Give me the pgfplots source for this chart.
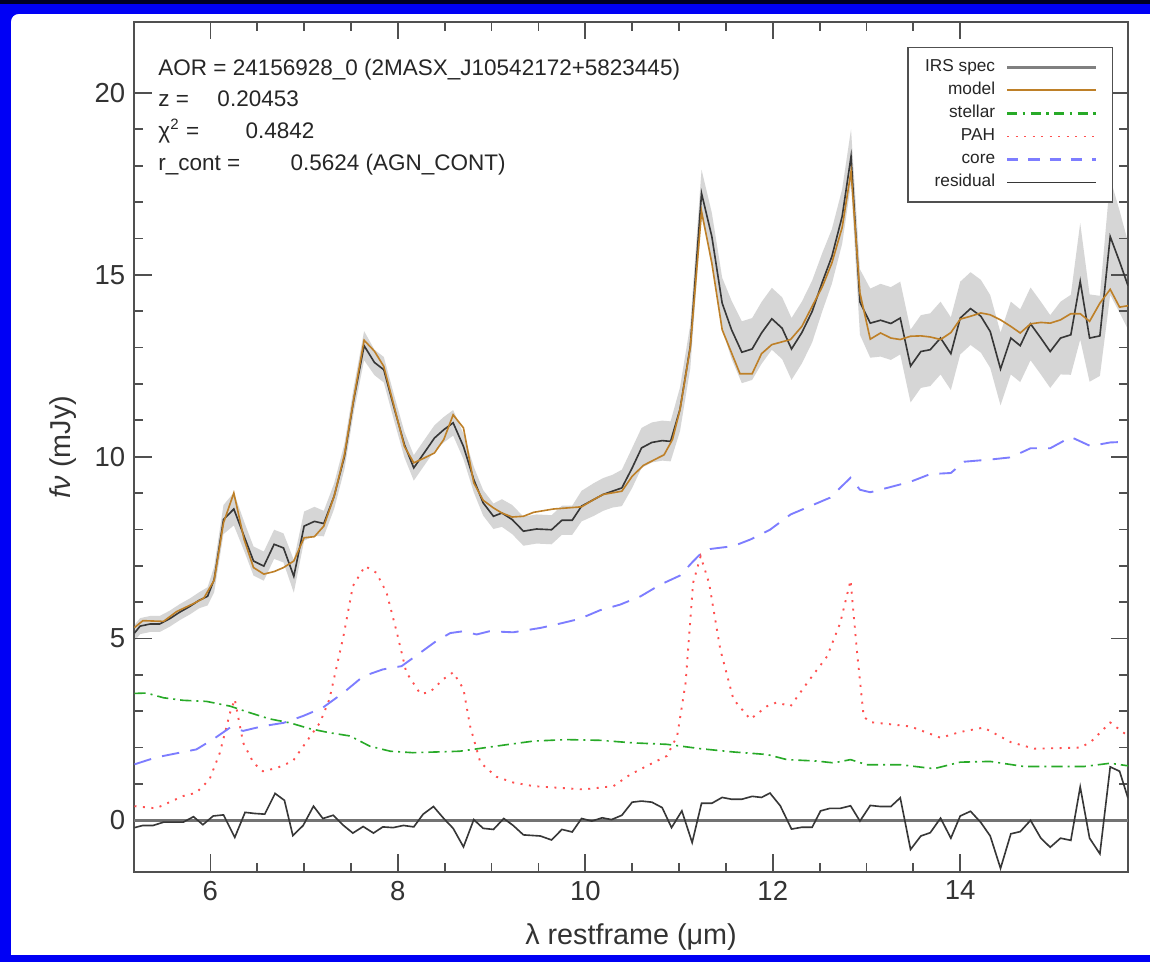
\documentclass[border=0pt]{standalone}
\usepackage{fontspec}
\setmainfont{Liberation Sans}
\usepackage{pgfplots}
\usepackage{pgfplotstable}
\pgfplotsset{compat=1.18}
\usepgfplotslibrary{fillbetween}

\definecolor{modelc}{RGB}{190,128,40}
\definecolor{stellarc}{RGB}{40,170,40}
\definecolor{pahc}{RGB}{255,80,80}
\definecolor{corec}{RGB}{125,125,255}
\definecolor{specc}{RGB}{55,55,55}
\definecolor{bandc}{RGB}{214,214,214}
\definecolor{framec}{RGB}{80,80,80}
\definecolor{bgblue}{RGB}{0,0,245}

\pgfdeclarelayer{bgpic}
\pgfplotsset{layers/mylayers/.define layer set={bgpic,axis background,axis grid,axis ticks,axis lines,axis tick labels,pre main,main,axis descriptions,axis foreground}{}}

\pgfplotstableread{
x y e
5.19 5.15 0.22
5.25 5.34 0.22
5.36 5.40 0.22
5.46 5.40 0.22
5.57 5.55 0.22
5.67 5.72 0.22
5.78 5.88 0.22
5.88 6.05 0.22
5.97 6.16 0.25
6.04 6.62 0.35
6.14 8.27 0.4
6.25 8.56 0.45
6.36 7.81 0.4
6.46 7.13 0.4
6.57 6.99 0.4
6.68 7.59 0.4
6.78 7.49 0.4
6.89 6.71 0.45
7.00 8.09 0.4
7.11 8.22 0.4
7.21 8.16 0.35
7.32 8.91 0.35
7.43 10.0 0.35
7.53 11.57 0.35
7.64 13.05 0.4
7.75 12.59 0.35
7.85 12.39 0.35
7.96 11.34 0.35
8.07 10.33 0.35
8.17 9.69 0.35
8.28 10.10 0.35
8.39 10.51 0.35
8.49 10.74 0.35
8.59 10.93 0.35
8.70 10.28 0.35
8.81 9.37 0.35
8.91 8.73 0.35
9.02 8.36 0.35
9.11 8.45 0.38
9.22 8.27 0.4
9.34 7.95 0.4
9.48 8.01 0.4
9.64 7.99 0.4
9.75 8.25 0.4
9.86 8.25 0.4
9.96 8.64 0.42
10.09 8.82 0.45
10.19 8.96 0.45
10.29 9.05 0.45
10.39 9.14 0.5
10.50 9.69 0.55
10.60 10.24 0.55
10.71 10.39 0.55
10.82 10.44 0.55
10.91 10.42 0.55
11.01 11.30 0.6
11.12 13.03 0.6
11.24 17.24 0.65
11.35 16.05 0.65
11.46 14.22 0.7
11.56 13.49 0.8
11.67 12.87 0.85
11.78 12.96 0.85
11.88 13.40 0.85
11.99 13.79 0.85
12.10 13.53 0.85
12.20 12.96 0.85
12.31 13.41 0.85
12.42 13.99 0.85
12.53 14.81 0.8
12.63 15.50 0.75
12.74 16.60 0.75
12.835 18.25 0.75
12.93 14.25 0.9
13.04 13.67 0.95
13.15 13.75 1.0
13.26 13.66 1.0
13.36 13.81 1.0
13.47 12.49 1.0
13.58 12.89 1.0
13.68 12.94 1.0
13.79 13.26 1.0
13.90 12.83 1.0
14.00 13.81 1.0
14.11 14.07 1.0
14.22 13.86 1.0
14.32 13.44 1.0
14.43 12.41 1.0
14.54 13.26 1.0
14.64 13.05 1.0
14.75 13.65 1.0
14.86 13.26 1.0
14.96 12.89 1.0
15.07 13.26 1.0
15.18 13.35 1.1
15.28 14.82 1.6
15.38 13.26 1.2
15.49 13.32 1.1
15.60 16.05 1.6
15.70 15.36 1.4
15.79 14.70 1.2
}\spec

\pgfplotstableread{
x y
5.19 5.30
5.28 5.49
5.39 5.48
5.50 5.47
5.64 5.74
5.82 5.96
5.93 6.11
6.04 6.60
6.14 8.18
6.25 9.00
6.36 7.72
6.46 6.95
6.57 6.77
6.68 6.84
6.78 6.95
6.89 7.13
7.00 7.77
7.11 7.80
7.21 8.09
7.32 8.91
7.43 10.05
7.53 11.60
7.64 13.20
7.75 12.90
7.85 12.48
7.96 11.38
8.07 10.28
8.17 9.83
8.28 9.96
8.39 10.10
8.49 10.47
8.59 11.15
8.70 10.79
8.81 9.28
8.91 8.80
9.02 8.59
9.11 8.45
9.22 8.34
9.34 8.36
9.45 8.47
9.66 8.56
9.96 8.62
10.09 8.82
10.19 8.96
10.39 9.05
10.50 9.46
10.62 9.76
10.84 10.05
10.93 10.47
11.01 11.29
11.12 13.00
11.24 16.74
11.35 15.32
11.46 13.49
11.65 12.28
11.78 12.28
11.88 12.83
11.99 13.08
12.19 13.22
12.31 13.58
12.42 14.13
12.53 14.68
12.63 15.32
12.74 16.30
12.835 17.84
12.93 14.50
13.04 13.23
13.15 13.40
13.26 13.26
13.36 13.22
13.47 13.31
13.58 13.32
13.68 13.29
13.79 13.22
13.90 13.41
14.00 13.78
14.11 13.86
14.22 13.95
14.32 13.90
14.43 13.76
14.54 13.58
14.64 13.40
14.75 13.65
14.86 13.69
14.96 13.67
15.07 13.76
15.18 13.93
15.28 13.93
15.38 13.72
15.49 14.22
15.60 14.60
15.70 14.11
15.79 14.15
}\model

\pgfplotstableread{
x y
5.19 3.49
5.32 3.50
5.50 3.37
5.71 3.30
5.96 3.27
6.21 3.14
6.42 2.96
6.63 2.79
6.85 2.68
7.06 2.52
7.27 2.41
7.49 2.32
7.70 2.04
7.92 1.90
8.16 1.86
8.41 1.88
8.66 1.90
8.91 1.99
9.16 2.08
9.45 2.18
9.80 2.22
10.16 2.20
10.51 2.13
10.87 2.09
11.23 1.97
11.58 1.88
11.94 1.81
12.15 1.67
12.47 1.63
12.65 1.58
12.83 1.67
13.00 1.53
13.36 1.53
13.72 1.42
14.00 1.60
14.32 1.62
14.68 1.48
15.32 1.48
15.60 1.57
15.79 1.50
}\stellar

\pgfplotstableread{
x y
5.19 0.39
5.42 0.33
5.71 0.67
5.85 0.76
5.99 1.12
6.10 1.85
6.21 2.96
6.26 3.33
6.35 2.13
6.46 1.58
6.56 1.35
6.71 1.44
6.88 1.63
7.03 2.18
7.17 2.69
7.27 3.33
7.42 5.07
7.52 6.44
7.65 6.99
7.77 6.81
7.88 6.26
7.99 5.16
8.09 4.07
8.24 3.48
8.34 3.52
8.49 3.89
8.59 4.07
8.70 3.61
8.77 2.60
8.88 1.59
9.05 1.20
9.23 1.04
9.45 0.94
9.98 0.85
10.30 0.94
10.48 1.26
10.69 1.54
10.87 1.77
10.98 2.32
11.07 3.78
11.15 6.53
11.23 7.26
11.32 6.53
11.44 4.70
11.58 3.33
11.76 2.78
11.94 3.14
12.04 3.24
12.19 3.14
12.37 3.79
12.58 4.51
12.72 5.43
12.83 6.60
12.90 4.60
12.97 2.85
13.04 2.70
13.26 2.64
13.47 2.58
13.79 2.27
14.00 2.43
14.25 2.55
14.54 2.15
14.79 1.97
15.28 2.00
15.39 2.15
15.60 2.69
15.79 2.32
}\pah

\pgfplotstableread{
x y
5.19 1.54
5.42 1.73
5.71 1.88
5.85 1.95
6.03 2.23
6.21 2.55
6.35 2.46
6.56 2.59
6.78 2.68
6.99 2.87
7.20 3.10
7.42 3.51
7.63 3.96
7.84 4.15
8.04 4.24
8.24 4.61
8.41 4.93
8.56 5.15
8.70 5.20
8.84 5.11
8.98 5.20
9.23 5.17
9.52 5.29
9.73 5.41
9.94 5.54
10.16 5.78
10.37 5.93
10.59 6.16
10.80 6.48
11.01 6.73
11.15 7.12
11.23 7.33
11.33 7.46
11.58 7.54
11.76 7.72
11.97 7.99
12.19 8.41
12.40 8.64
12.61 8.87
12.83 9.42
12.93 9.09
13.04 9.02
13.22 9.14
13.47 9.31
13.68 9.52
13.90 9.55
14.04 9.86
14.32 9.92
14.54 9.98
14.75 10.23
14.96 10.23
15.18 10.54
15.39 10.29
15.60 10.39
15.79 10.41
}\core

\pgfplotstableread{
x y
5.19 -0.20
5.28 -0.14
5.39 -0.14
5.50 -0.05
5.61 -0.05
5.71 -0.05
5.82 0.10
5.92 -0.12
6.03 0.12
6.14 0.15
6.26 -0.47
6.37 0.22
6.47 0.19
6.58 0.17
6.69 0.74
6.79 0.55
6.88 -0.42
6.99 -0.14
7.10 0.39
7.20 0.05
7.31 0.14
7.42 -0.14
7.52 -0.35
7.63 -0.17
7.74 -0.35
7.84 -0.18
7.95 -0.20
8.06 -0.14
8.17 -0.18
8.27 0.17
8.38 0.38
8.49 0.05
8.59 -0.22
8.70 -0.73
8.81 0.02
8.91 -0.22
9.02 -0.25
9.13 0.05
9.23 -0.14
9.34 -0.40
9.52 -0.43
9.64 -0.54
9.75 -0.25
9.86 -0.32
9.96 0.05
10.07 -0.02
10.18 0.07
10.28 0.02
10.39 0.14
10.50 0.50
10.60 0.53
10.71 0.50
10.82 0.35
10.92 -0.20
11.03 0.26
11.14 -0.61
11.24 0.47
11.35 0.47
11.46 0.63
11.56 0.58
11.67 0.58
11.78 0.66
11.88 0.63
11.97 0.75
12.08 0.40
12.20 -0.24
12.31 -0.19
12.42 -0.19
12.51 0.26
12.61 0.33
12.72 0.33
12.83 0.40
12.93 -0.02
13.04 0.41
13.15 0.38
13.26 0.38
13.36 0.62
13.47 -0.80
13.58 -0.43
13.68 -0.34
13.79 0.06
13.90 -0.49
14.00 0.12
14.11 0.25
14.22 -0.06
14.32 -0.43
14.43 -1.32
14.54 -0.37
14.64 -0.31
14.75 0.00
14.86 -0.49
14.96 -0.74
15.07 -0.49
15.18 -0.55
15.28 0.92
15.38 -0.49
15.49 -0.92
15.60 1.47
15.70 1.35
15.79 0.61
}\resid

\begin{document}
\begin{tikzpicture}
\pgfplotsset{set layers=mylayers}
\begin{pgfonlayer}{bgpic}
\fill[white] (-53.6pt,-36pt) rectangle (406.4pt,348.8pt);
\fill[bgblue] (-53.6pt,-36pt) rectangle (-49.2pt,348.8pt);
\fill[bgblue] (-53.6pt,343.2pt) rectangle (406.4pt,348.8pt);
\fill[black!85!blue] (-53.6pt,347.2pt) rectangle (406.4pt,348.8pt);
\fill[bgblue] (-53.6pt,-36pt) rectangle (406.4pt,-33.2pt);
\fill[bgblue] (-49.2pt,343.2pt) -- (-46.2pt,343.2pt) arc[start angle=90, end angle=180, radius=3pt] -- cycle;
\end{pgfonlayer}
\begin{axis}[
  at={(0pt,0pt)}, anchor=south west,
  scale only axis, width=397.6pt, height=340pt,
  xmin=5.185, xmax=15.79, ymin=-1.42, ymax=21.95,
  axis line style={framec, line width=0.8pt},
  tick style={framec, line width=0.7pt},
  major tick length=7pt, minor tick length=3.6pt,
  tick align=inside,
  xtick={6,8,10,12,14}, minor x tick num=3,
  ytick={0,5,10,15,20}, minor y tick num=4,
  ticklabel style={font=\fontsize{11}{13}\selectfont, text=black!80},
  /pgf/number format/assume math mode=true,
  xlabel={λ restframe (μm)},
  ylabel={\textit{fν} (mJy)},
  label style={font=\fontsize{11.5}{13}\selectfont, text=black!80},
  xlabel style={at={(axis description cs:0.5,-0.0765)}, anchor=center},
  ylabel style={at={(axis description cs:-0.0714,0.5)}, anchor=center},
  legend style={at={(rel axis cs:0.985,0.9706)}, anchor=north east,
    draw=framec, line width=0.6pt, fill=white,
    font=\fontsize{6.9}{8}\selectfont, text=black!85,
    inner xsep=6pt, inner ysep=3.8pt, row sep=1pt, column sep=3.5pt,
    nodes={inner sep=0.8pt, text height=5pt, text depth=1.6pt}},
  legend cell align=right, legend plot pos=right,
  legend image code/.code={\draw[#1] (0pt,0pt) -- (35.6pt,0pt);},
]
\addplot[draw=none, name path=up, forget plot] table[x=x, y expr=\thisrow{y}+\thisrow{e}] {\spec};
\addplot[draw=none, name path=lo, forget plot] table[x=x, y expr=\thisrow{y}-\thisrow{e}] {\spec};
\addplot[bandc, forget plot] fill between[of=up and lo];

\addplot[color=specc, line width=0.65pt, forget plot] table[x=x,y=y] {\spec};
\addplot[color=modelc, line width=0.65pt, forget plot] table[x=x,y=y] {\model};
\addplot[color=stellarc, line width=0.65pt, dash pattern=on 4.5pt off 2pt on 0.8pt off 2pt, forget plot] table[x=x,y=y] {\stellar};
\addplot[color=pahc, line width=0.75pt, dash pattern=on 0.8pt off 2.6pt, forget plot] table[x=x,y=y] {\pah};
\addplot[color=corec, line width=0.75pt, dash pattern=on 7pt off 4.5pt, forget plot] table[x=x,y=y] {\core};
\addplot[color=black!55, line width=1pt, forget plot] coordinates {(5.185,0) (15.79,0)};
\addplot[color=specc, line width=0.65pt, forget plot] table[x=x,y=y] {\resid};

\addlegendimage{color=black!50, line width=1pt}
\addlegendentry{IRS spec}
\addlegendimage{color=modelc, line width=0.8pt}
\addlegendentry{model}
\addlegendimage{color=stellarc, line width=0.9pt, dash pattern=on 4pt off 2.2pt on 1pt off 2.2pt}
\addlegendentry{stellar}
\addlegendimage{color=pahc, line width=0.75pt, dash pattern=on 0.8pt off 2.6pt}
\addlegendentry{PAH}
\addlegendimage{color=corec, line width=0.9pt, dash pattern=on 4.5pt off 4pt}
\addlegendentry{core}
\addlegendimage{color=specc, line width=0.7pt}
\addlegendentry{residual}

\node[anchor=base west, font=\fontsize{9}{11}\selectfont, text=black!85, inner sep=0pt] at (rel axis cs:0.0241,0.9376) {AOR = 24156928\_0 (2MASX\_J10542172+5823445)};
\node[anchor=base west, font=\fontsize{9}{11}\selectfont, text=black!85, inner sep=0pt] at (rel axis cs:0.0241,0.9) {z =};
\node[anchor=base west, font=\fontsize{9}{11}\selectfont, text=black!85, inner sep=0pt] at (rel axis cs:0.0835,0.9) {0.20453};
\node[anchor=base west, font=\fontsize{9}{11}\selectfont, text=black!85, inner sep=0pt] at (rel axis cs:0.0241,0.8624) {χ\textsuperscript{2} =};
\node[anchor=base west, font=\fontsize{9}{11}\selectfont, text=black!85, inner sep=0pt] at (rel axis cs:0.1117,0.8624) {0.4842};
\node[anchor=base west, font=\fontsize{9}{11}\selectfont, text=black!85, inner sep=0pt] at (rel axis cs:0.0241,0.8247) {r\_cont =};
\node[anchor=base west, font=\fontsize{9}{11}\selectfont, text=black!85, inner sep=0pt] at (rel axis cs:0.157,0.8247) {0.5624 (AGN\_CONT)};
\end{axis}
\pgfresetboundingbox
\path[use as bounding box] (-53.6pt,-36pt) rectangle (406.4pt,348.8pt);
\end{tikzpicture}
\end{document}
